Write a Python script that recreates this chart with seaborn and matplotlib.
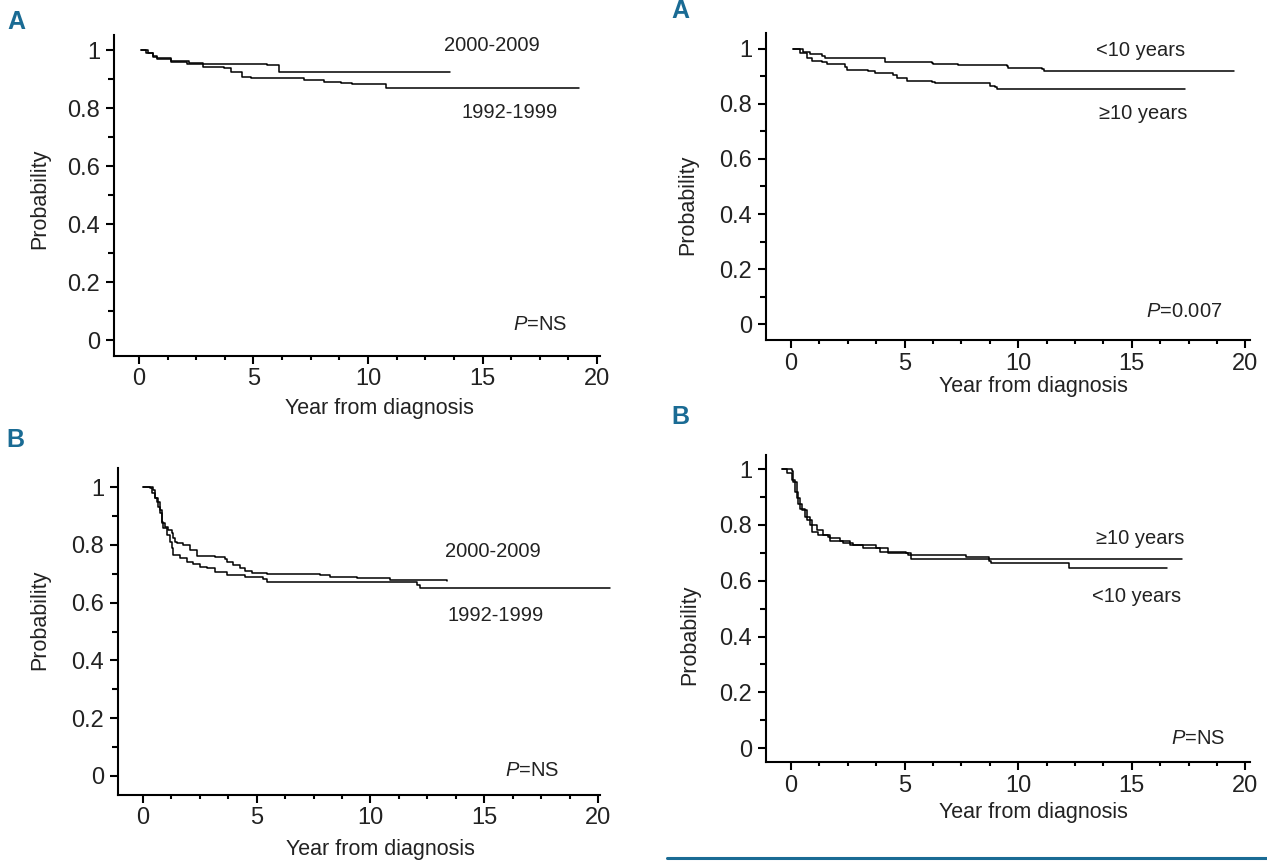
import matplotlib
matplotlib.use("Agg")
import matplotlib.pyplot as plt
from matplotlib.lines import Line2D
from matplotlib.ticker import MultipleLocator
import pandas as pd
import seaborn as sns

# ========== DATA (Kaplan-Meier steps) ==========
# panel A (left): diagnosis period
a_left_2000_t = [0.1, 0.3, 0.6, 0.8, 1.4, 2.1, 5.6, 6.1, 13.6]
a_left_2000_s = [1.0, 0.99, 0.975, 0.968, 0.96, 0.953, 0.948, 0.925, 0.925]
a_left_1992_t = [0.1, 0.4, 0.6, 0.8, 1.4, 2.2, 2.8, 3.7, 4.0, 4.5, 4.9, 7.2, 8.1, 8.8, 9.3, 10.8, 19.2]
a_left_1992_s = [1.0, 0.99, 0.979, 0.971, 0.963, 0.954, 0.94, 0.937, 0.925, 0.908, 0.902,
                 0.897, 0.891, 0.886, 0.882, 0.870, 0.870]

# panel B (left): diagnosis period
b_left_2000_t = [0.0, 0.45, 0.53, 0.63, 0.75, 0.82, 0.97, 1.11, 1.26, 1.33, 1.41, 1.48, 1.77, 2.07,
                 2.36, 3.16, 3.60, 3.68, 3.97, 4.26, 4.48, 4.78, 5.44, 7.78, 8.22, 9.39, 10.86, 13.35]
b_left_2000_s = [1.0, 0.991, 0.962, 0.950, 0.921, 0.875, 0.863, 0.852, 0.840, 0.823, 0.812, 0.806,
                 0.800, 0.783, 0.763, 0.757, 0.750, 0.742, 0.731, 0.719, 0.711, 0.704, 0.698,
                 0.696, 0.688, 0.685, 0.679, 0.675]
b_left_1992_t = [0.0, 0.31, 0.38, 0.53, 0.67, 0.75, 0.82, 0.89, 1.04, 1.19, 1.26, 1.33, 1.63, 1.92,
                 2.21, 2.51, 2.80, 3.16, 3.68, 4.48, 5.29, 5.44, 11.88, 12.03, 12.18, 20.53]
b_left_1992_s = [1.0, 0.996, 0.979, 0.962, 0.933, 0.910, 0.881, 0.858, 0.835, 0.812, 0.789, 0.765,
                 0.754, 0.742, 0.734, 0.725, 0.719, 0.708, 0.696, 0.688, 0.682, 0.673, 0.671,
                 0.661, 0.652, 0.652]

# panel A (right): age at diagnosis
a_right_lt10_t = [0.1, 0.54, 0.84, 1.35, 1.50, 4.14, 6.20, 6.27, 7.37, 9.50, 9.57, 11.04, 11.12, 19.49]
a_right_lt10_s = [1.0, 0.988, 0.981, 0.975, 0.966, 0.954, 0.950, 0.946, 0.942, 0.939, 0.930,
                  0.927, 0.921, 0.921]
a_right_ge10_t = [0.1, 0.40, 0.69, 0.91, 1.35, 1.57, 2.38, 2.45, 3.41, 3.70, 4.51, 4.65, 5.10, 6.20,
                  6.34, 8.69, 8.77, 8.99, 9.06, 17.36]
a_right_ge10_s = [1.0, 0.984, 0.966, 0.956, 0.954, 0.946, 0.936, 0.924, 0.921, 0.912, 0.906, 0.893,
                  0.884, 0.881, 0.878, 0.875, 0.867, 0.863, 0.855, 0.855]

# panel B (right): age at diagnosis
b_right_ge10_t = [-0.41, 0.03, 0.10, 0.25, 0.39, 0.61, 0.83, 1.13, 1.42, 1.71, 2.15, 2.59, 3.61,
                  3.76, 4.27, 5.15, 7.71, 8.73, 17.21]
b_right_ge10_s = [1.0, 0.993, 0.955, 0.895, 0.859, 0.829, 0.799, 0.781, 0.763, 0.754, 0.742, 0.730,
                  0.728, 0.716, 0.701, 0.692, 0.686, 0.677, 0.677]
b_right_lt10_t = [-0.41, -0.19, 0.03, 0.18, 0.32, 0.47, 0.69, 0.91, 1.20, 1.64, 1.71, 2.29, 2.73,
                  3.17, 3.90, 5.07, 5.29, 8.73, 8.80, 12.24, 16.55]
b_right_lt10_s = [1.0, 0.985, 0.961, 0.919, 0.877, 0.853, 0.817, 0.775, 0.763, 0.757, 0.742, 0.737,
                  0.728, 0.716, 0.704, 0.701, 0.677, 0.670, 0.662, 0.644, 0.644]

x_ticks = [0, 5, 10, 15, 20]
y_ticks = [0, 0.2, 0.4, 0.6, 0.8, 1.0]
y_tick_labels = ["0", "0.2", "0.4", "0.6", "0.8", "1"]

# ========== STYLE ==========
sns.set_theme(style="ticks")
plt.rcParams['font.family'] = ['Liberation Sans', 'DejaVu Sans']
plt.rcParams['mathtext.fontset'] = 'custom'
plt.rcParams['mathtext.rm'] = 'Liberation Sans'
plt.rcParams['mathtext.it'] = 'Liberation Sans:italic'

W, H = 1267, 861
BLUE = '#1a6b94'
TXT = '#222222'

fig = plt.figure(figsize=(W / 100, H / 100), dpi=100)


def px_axes(x0, y0, x1, y1):
    return fig.add_axes([x0 / W, 1 - y1 / H, (x1 - x0) / W, (y1 - y0) / H])


def km(ax, t, s, clip=True):
    d = pd.DataFrame({'time': t, 'surv': s})
    sns.lineplot(data=d, x='time', y='surv', ax=ax, color='black', lw=1.1,
                 drawstyle='steps-post', estimator=None, sort=False, clip_on=clip)


def style_axes(ax, xlim, ylim, xlab, ylab):
    ax.set_xlim(*xlim)
    ax.set_ylim(*ylim)
    ax.set_xticks(x_ticks)
    ax.set_yticks(y_ticks, y_tick_labels)
    ax.xaxis.set_minor_locator(MultipleLocator(1.25))
    ax.yaxis.set_minor_locator(MultipleLocator(0.1))
    sns.despine(ax=ax)
    for sp in ('left', 'bottom'):
        ax.spines[sp].set_linewidth(1.5)
        ax.spines[sp].set_color('black')
    ax.tick_params(axis='both', which='major', width=1.5, color='black',
                   labelsize=17, labelcolor=TXT)
    ax.tick_params(axis='y', which='major', length=6, pad=4)
    ax.tick_params(axis='y', which='minor', length=4, width=1.5, color='black')
    ax.tick_params(axis='x', which='major', length=5.5, pad=3.5)
    ax.tick_params(axis='x', which='minor', length=3, width=1.5, color='black')
    ax.set_xlabel("Year from diagnosis", fontsize=15.5, color=TXT, va='center')
    ax.set_ylabel("Probability", fontsize=15.5, color=TXT, va='center')
    ax.xaxis.set_label_coords(*xlab)
    ax.yaxis.set_label_coords(*ylab)


def note(ax, x, y, s, size=14.5):
    ax.text(x, y, s, ha='center', va='center', fontsize=size, color=TXT)


# ---- top left ----
ax = px_axes(114, 35, 600, 356)
km(ax, a_left_2000_t, a_left_2000_s)
km(ax, a_left_1992_t, a_left_1992_s)
style_axes(ax, (-1.09, 20.13), (-0.055, 1.052), (0.547, -0.162), (-0.152, 0.49))
note(ax, 15.4, 1.017, "2000-2009")
note(ax, 16.2, 0.786, "1992-1999")
note(ax, 17.5, 0.052, r"$\mathit{P}$=NS")

# ---- bottom left ----
ax = px_axes(118, 468, 600, 795)
km(ax, b_left_2000_t, b_left_2000_s)
km(ax, b_left_1992_t, b_left_1992_s, clip=False)
style_axes(ax, (-1.10, 20.09), (-0.067, 1.067), (0.544, -0.168), (-0.162, 0.535))
note(ax, 15.4, 0.776, "2000-2009")
note(ax, 15.5, 0.557, "1992-1999")
note(ax, 17.1, 0.017, r"$\mathit{P}$=NS")

# ---- top right ----
ax = px_axes(766, 33, 1250, 340)
km(ax, a_right_lt10_t, a_right_lt10_s)
km(ax, a_right_ge10_t, a_right_ge10_s)
style_axes(ax, (-1.10, 20.2), (-0.058, 1.058), (0.552, -0.153), (-0.161, 0.44))
note(ax, 15.4, 0.996, "<10 years")
note(ax, 15.5, 0.767, "\u226510 years")
note(ax, 17.3, 0.044, r"$\mathit{P}$=0.007")

# ---- bottom right ----
ax = px_axes(766, 455, 1250, 762)
km(ax, b_right_ge10_t, b_right_ge10_s)
km(ax, b_right_lt10_t, b_right_lt10_s)
style_axes(ax, (-1.10, 20.2), (-0.05, 1.051), (0.552, -0.163), (-0.157, 0.414))
note(ax, 15.35, 0.753, "\u226510 years")
note(ax, 15.2, 0.545, "<10 years")
note(ax, 17.9, 0.036, r"$\mathit{P}$=NS")

# ---- panel letters + rule ----
for (px, py, letter) in [(16, 22, "A"), (680, 11, "A"), (15, 440, "B"), (680, 417, "B")]:
    fig.text(px / W, 1 - py / H, letter, ha='center', va='center', fontsize=18,
             fontweight='bold', color=BLUE)
fig.add_artist(Line2D([667 / W, 1.0], [1 - 858 / H, 1 - 858 / H], transform=fig.transFigure,
                      color=BLUE, lw=2.2))

fig.savefig("out.png", dpi=100)
